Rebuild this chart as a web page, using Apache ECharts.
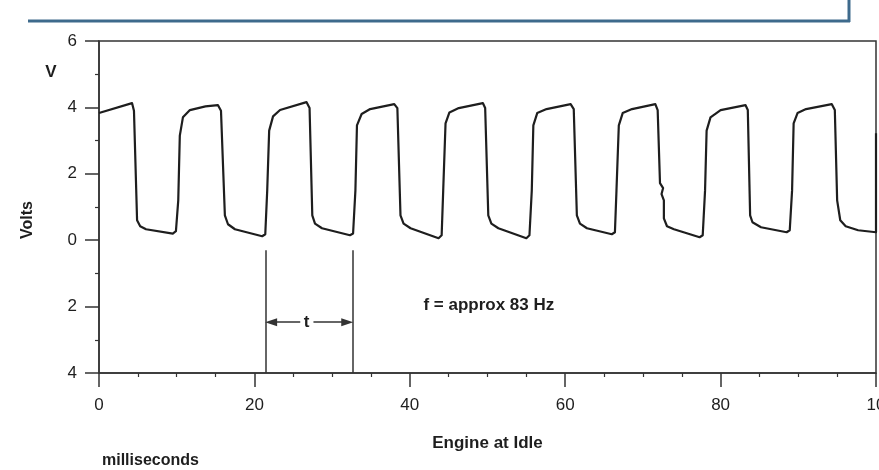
<!DOCTYPE html>
<html>
<head>
<meta charset="utf-8">
<script src="https://cdn.jsdelivr.net/npm/echarts@6/dist/echarts.min.js"></script>
<style>
html,body{margin:0;padding:0;background:#fff;}
#chart{width:879px;height:470px;}
</style>
</head>
<body>
<div id="chart"></div>
<script>
// Waveform: time (ms), voltage (V)
const timeMs = [0,4.25,4.5,4.9,5.3,6.05,9.5,9.9,10.2,10.4,10.8,11.7,13.7,15.3,15.7,16.2,16.6,17.5,21.0,21.4,21.65,21.9,22.4,23.3,26.7,27.1,27.45,27.8,28.7,32.3,32.7,33.0,33.2,33.8,34.9,38.0,38.4,38.8,39.2,40.1,43.7,44.1,44.3,44.6,45.1,46.3,49.4,49.7,50.1,50.5,51.4,55.0,55.4,55.7,55.9,56.4,57.6,60.7,61.1,61.5,61.9,62.8,66.0,66.4,66.6,66.9,67.4,68.6,71.6,71.9,72.2,72.6,72.4,72.7,72.7,73.1,74.0,77.3,77.7,78.0,78.2,78.7,80.0,83.2,83.5,83.8,84.1,85.2,88.5,88.9,89.2,89.4,89.9,91.0,94.3,94.7,95.0,95.4,96.1,97.7,100,100];
const volts  = [3.83,4.13,3.9,0.6,0.42,0.33,0.2,0.27,1.2,3.15,3.7,3.92,4.03,4.07,3.9,0.75,0.48,0.33,0.12,0.18,1.5,3.3,3.73,3.92,4.16,3.98,0.75,0.5,0.36,0.15,0.2,1.5,3.46,3.8,3.95,4.1,3.98,0.75,0.5,0.36,0.06,0.15,1.5,3.52,3.85,3.98,4.13,3.98,0.75,0.5,0.36,0.06,0.15,1.5,3.46,3.83,3.95,4.1,3.95,0.75,0.5,0.36,0.18,0.24,1.5,3.46,3.83,3.95,4.1,3.92,1.72,1.57,1.39,1.2,0.66,0.42,0.33,0.09,0.15,1.5,3.3,3.7,3.92,4.07,3.92,0.75,0.54,0.39,0.24,0.3,1.5,3.52,3.83,3.95,4.1,3.92,1.2,0.6,0.42,0.3,0.24,3.22];

// Axis ticks
const xTickValues = [0,20,40,60,80,100];
const xTickLabels = ['0','20','40','60','80','10'];
const yTickValues = [-4,-2,0,2,4,6];
const yTickLabels = ['4','2','0','2','4','6'];

// Period markers (ms) and annotation
const markerTimes = [21.4, 32.7];
const markerTop = -0.3;
const arrowLevel = -2.47;
const arrowGap = [25.9, 27.6];
const arrowTips = [22.15, 31.95];
const tLabelPos = [26.7, -2.47];
const freqLabel = 'f = approx 83 Hz';
const freqLabelPos = [41.75, -1.96];

const chart = echarts.init(document.getElementById('chart'), null, {renderer: 'canvas'});
const txt = '#1e1e1e';
const lineCol = '#333';
const ff = 'Liberation Sans, Arial, sans-serif';

const option = {
  animation: false,
  backgroundColor: '#fff',
  grid: {left: 99, right: 3, top: 41, bottom: 97, show: true, borderColor: lineCol, borderWidth: 1.5,
    backgroundColor: 'transparent', containLabel: false, outerBoundsMode: 'none'},
  xAxis: {
    type: 'value', min: 0, max: 100, interval: 20,
    axisLine: {show: true, onZero: false, lineStyle: {color: lineCol, width: 1.5}},
    axisTick: {show: true, length: 14, lineStyle: {color: lineCol, width: 1.5}},
    minorTick: {show: true, splitNumber: 4, length: 4, lineStyle: {color: lineCol, width: 1.2}},
    splitLine: {show: false},
    axisLabel: {margin: 24, color: txt, fontSize: 17, fontFamily: ff, showMaxLabel: true, showMinLabel: true,
      formatter: v => xTickLabels[xTickValues.indexOf(v)]},
    name: 'Engine at Idle', nameLocation: 'middle', nameGap: 62,
    nameTextStyle: {color: txt, fontSize: 17, fontWeight: 'bold', fontFamily: ff}
  },
  yAxis: {
    type: 'value', min: -4, max: 6, interval: 2,
    axisLine: {show: true, onZero: false, lineStyle: {color: lineCol, width: 1.5}},
    axisTick: {show: true, length: 14, lineStyle: {color: lineCol, width: 1.5}},
    minorTick: {show: true, splitNumber: 2, length: 4, lineStyle: {color: lineCol, width: 1.2}},
    splitLine: {show: false},
    axisLabel: {margin: 22, color: txt, fontSize: 17, fontFamily: ff,
      formatter: v => yTickLabels[yTickValues.indexOf(v)]}
  },
  graphic: [
    {type: 'line', shape: {x1: 28, y1: 21, x2: 850, y2: 21}, style: {stroke: '#3e6a8c', lineWidth: 3}},
    {type: 'line', shape: {x1: 849, y1: 0, x2: 849, y2: 22}, style: {stroke: '#3e6a8c', lineWidth: 3}},
    {type: 'text', x: 51, y: 72, style: {text: 'V', fill: txt, font: 'bold 17px ' + ff, align: 'center', verticalAlign: 'middle'}},
    {type: 'text', x: 28, y: 220, rotation: Math.PI / 2, style: {text: 'Volts', fill: txt, font: 'bold 16px ' + ff, align: 'center', verticalAlign: 'middle'}},
    {type: 'text', x: 102, y: 461, style: {text: 'milliseconds', fill: txt, font: 'bold 16px ' + ff, align: 'left', verticalAlign: 'middle'}}
  ],
  series: [
    {
      type: 'line', data: timeMs.map((t, i) => [t, volts[i]]),
      symbol: 'none', smooth: false,
      lineStyle: {color: '#1e1e1e', width: 2.2, join: 'round'},
      z: 3
    },
    {
      type: 'line', data: [], symbol: 'none',
      markLine: {
        silent: true, animation: false,
        lineStyle: {color: lineCol, width: 1.5, type: 'solid'},
        label: {show: false},
        data: [
          [{coord: [markerTimes[0], -4], symbol: 'none'}, {coord: [markerTimes[0], markerTop], symbol: 'none'}],
          [{coord: [markerTimes[1], -4], symbol: 'none'}, {coord: [markerTimes[1], markerTop], symbol: 'none'}],
          [{coord: [arrowGap[0], arrowLevel], symbol: 'none'}, {coord: [arrowTips[0], arrowLevel], symbol: 'triangle', symbolSize: [8, 12]}],
          [{coord: [arrowGap[1], arrowLevel], symbol: 'none'}, {coord: [arrowTips[1], arrowLevel], symbol: 'triangle', symbolSize: [8, 12]}]
        ]
      }
    },
    {
      type: 'scatter', symbolSize: 0, silent: true,
      itemStyle: {opacity: 1},
      data: [
        {value: tLabelPos, label: {show: true, formatter: 't', position: 'inside', color: txt, fontSize: 17, fontWeight: 'bold', fontFamily: ff}},
        {value: freqLabelPos, label: {show: true, formatter: freqLabel, position: 'right', distance: 0, color: txt, fontSize: 17, fontWeight: 'bold', fontFamily: ff}}
      ]
    }
  ]
};
chart.setOption(option);
</script>
</body>
</html>
